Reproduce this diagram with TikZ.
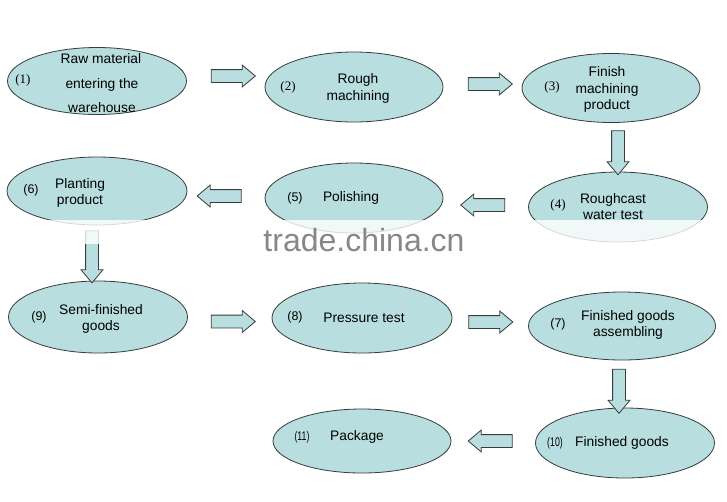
\documentclass[tikz,border=0pt]{standalone}
\usepackage{fontspec}
\setmainfont{Liberation Sans}
\newfontfamily\numserif{Liberation Serif}
\usetikzlibrary{shapes.geometric,shapes.arrows}
\definecolor{boxfill}{RGB}{184,222,224}
\definecolor{edgegray}{RGB}{55,60,60}
\definecolor{markgray}{RGB}{135,135,135}
\begin{document}
\begin{tikzpicture}[x=1pt,y=-1pt,
  stage/.style={ellipse,draw=edgegray,fill=boxfill,line width=0.8pt,inner sep=0pt},
  blockarrow/.style={single arrow,draw=edgegray,fill=boxfill,line width=0.8pt,
    inner sep=6pt,minimum height=44pt,minimum width=0pt,
    single arrow head extend=4.5pt,single arrow tip angle=80},
  lbl/.style={font=\fontsize{13.8}{16.5}\selectfont,align=center,inner sep=0pt},
  numlbl/.style={font=\numserif\fontsize{13}{15}\selectfont,inner sep=0pt},
  numsans/.style={font=\fontsize{12.5}{15}\selectfont,inner sep=0pt}]
\useasboundingbox (0,0) rectangle (727,501);
\fill[white] (0,0) rectangle (727,501);

% stages
\node[stage,minimum width=179pt,minimum height=67pt] (e1) at (97,81) {};
\node[stage,minimum width=178pt,minimum height=70pt] (e2) at (354,87) {};
\node[stage,minimum width=178pt,minimum height=69pt] (e3) at (611,88) {};
\node[stage,minimum width=179pt,minimum height=70pt] (e4) at (618,207) {};
\node[stage,minimum width=178pt,minimum height=70pt] (e5) at (354,198) {};
\node[stage,minimum width=180pt,minimum height=68pt] (e6) at (97,191) {};
\node[stage,minimum width=179pt,minimum height=72pt] (e9) at (98,317) {};
\node[stage,minimum width=180pt,minimum height=70pt] (e8) at (362,318) {};
\node[stage,minimum width=187pt,minimum height=68pt] (e7) at (622,326) {};
\node[stage,minimum width=179pt,minimum height=70pt] (e10) at (625,443) {};
\node[stage,minimum width=178pt,minimum height=64pt] (e11) at (362,441) {};

% block arrows
\node[blockarrow] (a12) at (229.5,76) {};
\node[blockarrow] (a23) at (486.5,84) {};
\node[blockarrow,shape border rotate=270] (a34) at (618,149) {};
\node[blockarrow,shape border rotate=180] (a45) at (486.5,205) {};
\node[blockarrow,shape border rotate=180] (a56) at (223,196) {};
\node[blockarrow,shape border rotate=270,minimum height=52pt] (a69) at (92,253) {};
\node[blockarrow] (a98) at (229.5,321.5) {};
\node[blockarrow] (a87) at (487,322) {};
\node[blockarrow,shape border rotate=270] (a710) at (619,387.5) {};
\node[blockarrow,shape border rotate=180] (a1011) at (494,441) {};

% labels
\node[numlbl] (n1) at (23,80) {(1)};
\node[lbl] (t1a) at (101,59) {Raw material};
\node[lbl] (t1b) at (102,85) {entering the};
\node[lbl] (t1c) at (102,108) {warehouse};

\node[numlbl] (n2) at (288,87) {(2)};
\node[lbl] (t2) at (358,88.5) {Rough\\machining};

\node[numlbl] (n3) at (552,87) {(3)};
\node[lbl] (t3) at (607,89.5) {Finish\\machining\\product};

\node[numlbl] (n4) at (558,205) {(4)};
\node[lbl] (t4) at (613,206.5) {Roughcast\\water test};

\node[numsans] (n5) at (295,198) {(5)};
\node[lbl] (t5) at (351,198) {Polishing};

\node[numsans] (n6) at (31,190) {(6)};
\node[lbl] (t6) at (80,193) {Planting\\product};

\node[numsans] (n9) at (39,317) {(9)};
\node[lbl] (t9) at (101,319) {Semi-finished\\goods};

\node[numsans] (n8) at (295,317) {(8)};
\node[lbl] (t8) at (364,318) {Pressure test};

\node[numsans] (n7) at (558,324) {(7)};
\node[lbl] (t7) at (628,325) {Finished goods\\assembling};

\node[numsans,xscale=0.7] (n10) at (555,443) {(10)};
\node[lbl] (t10) at (622,443) {Finished goods};

\node[numsans,xscale=0.7] (n11) at (302,437) {(11)};
\node[lbl] (t11) at (357,437) {Package};

% watermark band and text
\fill[white,opacity=0.8] (0,220) rectangle (727,243.5);
\node[text=markgray,font=\fontsize{32}{32}\selectfont,inner sep=0pt] (wm) at (364,240) {trade.china.cn};
\end{tikzpicture}
\end{document}
